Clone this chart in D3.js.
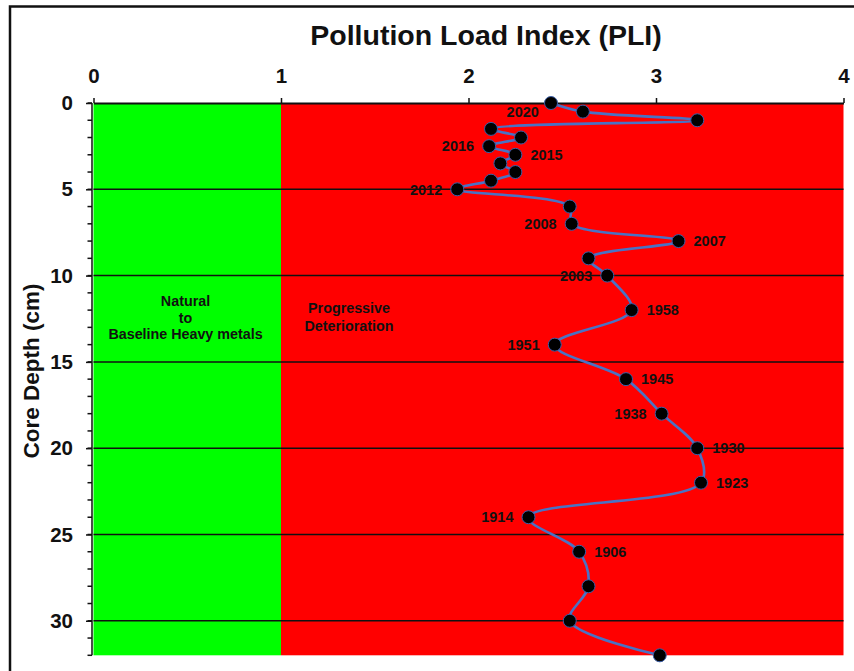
<!DOCTYPE html>
<html>
<head>
<meta charset="utf-8">
<script src="https://cdn.jsdelivr.net/npm/d3@7"></script>
<style>
  html, body { margin: 0; padding: 0; background: #fff; }
  svg { display: block; }
</style>
</head>
<body>
<svg id="chart" width="854" height="671"></svg>
<script>
// Sediment core: depth (cm) and Pollution Load Index at each slice
const depths = [0, 0.5, 1, 1.5, 2, 2.5, 3, 3.5, 4, 4.5, 5, 6, 7, 8, 9, 10, 12, 14, 16, 18, 20, 22, 24, 26, 28, 30, 32];
const pli    = [2.44, 2.61, 3.22, 2.12, 2.28, 2.11, 2.25, 2.17, 2.25, 2.12, 1.94, 2.54, 2.55, 3.12, 2.64, 2.74, 2.87, 2.46, 2.84, 3.03, 3.22, 3.24, 2.32, 2.59, 2.64, 2.54, 3.02];
// Dated horizons (year) for some slices
const years  = [null, "2020", null, null, null, "2016", "2015", null, null, null, "2012", null, "2008", "2007", null, "2003", "1958", "1951", "1945", "1938", "1930", "1923", "1914", "1906", null, null, null];

// Axis ticks
const xTicks = [0, 1, 2, 3, 4];
const yTicks = [0, 5, 10, 15, 20, 25, 30];
const yMinorTicks = d3.range(0, 33, 1);

// PLI classes
const zoneBreaks = [0, 1, 4];
const zoneNames = [["Natural", "to", "Baseline Heavy metals"], ["Progressive", "Deterioration"]];

const svg = d3.select("#chart");
const W = 854, H = 671;
const FONT = "'Liberation Sans', Arial, sans-serif";

const x = d3.scaleLinear().domain([0, 4]).range([93.5, 843.5]);
const y = d3.scaleLinear().domain([0, 32]).range([103, 655.3]);

const zoneColors = ["#00ff00", "#ff0000"];

// class bands
svg.append("g").selectAll("rect")
  .data(d3.pairs(zoneBreaks))
  .join("rect")
  .attr("x", d => x(d[0]))
  .attr("y", y(0))
  .attr("width", d => x(d[1]) - x(d[0]))
  .attr("height", y(32) - y(0))
  .attr("fill", (d, i) => zoneColors[i]);

// horizontal gridlines
svg.append("g").selectAll("line")
  .data(yTicks.filter(v => v > 0))
  .join("line")
  .attr("x1", x(0)).attr("x2", x(4))
  .attr("y1", d => y(d)).attr("y2", d => y(d))
  .attr("stroke", "#111").attr("stroke-width", 1.5);

// class names
const zoneText = svg.append("g")
  .attr("font-family", FONT)
  .attr("font-weight", "bold")
  .attr("font-size", 14.3)
  .attr("fill", "#111")
  .attr("text-anchor", "middle");
zoneText.append("text")
  .attr("x", 185.5).attr("y", 306)
  .selectAll("tspan").data(zoneNames[0]).join("tspan")
  .attr("x", 185.5).attr("dy", (d, i) => i ? 16.5 : 0)
  .text(d => d);
zoneText.append("text")
  .attr("x", 349).attr("y", 313)
  .selectAll("tspan").data(zoneNames[1]).join("tspan")
  .attr("x", 349).attr("dy", (d, i) => i ? 17.5 : 0)
  .text(d => d);

// top axis
const xAxis = svg.append("g")
  .attr("transform", `translate(0,${y(0)})`)
  .call(d3.axisTop(x).tickValues(xTicks).tickFormat(d3.format("d")).tickSize(5).tickSizeOuter(0).tickPadding(15));
xAxis.select(".domain").attr("stroke", "#111").attr("stroke-width", 2.2);
xAxis.selectAll(".tick line").attr("stroke", "#111").attr("stroke-width", 1.5);
xAxis.selectAll("text")
  .attr("font-family", FONT)
  .attr("font-weight", "bold").attr("font-size", 20.5).attr("fill", "#111");

// left axis with minor ticks
const yAxisG = svg.append("g").attr("transform", `translate(${x(0) - 1.5},0)`);
yAxisG.append("line")
  .attr("x1", 0).attr("x2", 0).attr("y1", y(0)).attr("y2", y(32))
  .attr("stroke", "#111").attr("stroke-width", 1.5);
yAxisG.append("g").selectAll("line")
  .data(yMinorTicks)
  .join("line")
  .attr("x1", -4.5).attr("x2", 0)
  .attr("y1", d => y(d)).attr("y2", d => y(d))
  .attr("stroke", "#111").attr("stroke-width", 1.5);
const yAxis = yAxisG.append("g")
  .call(d3.axisLeft(y).tickValues(yTicks).tickSize(6).tickSizeOuter(0).tickPadding(13));
yAxis.select(".domain").remove();
yAxis.selectAll(".tick line").attr("stroke", "#111").attr("stroke-width", 1.5);
yAxis.selectAll("text")
  .attr("font-family", FONT)
  .attr("font-weight", "bold").attr("font-size", 20.5).attr("fill", "#111");

// titles
svg.append("text")
  .attr("x", 486).attr("y", 45)
  .attr("text-anchor", "middle")
  .attr("font-family", FONT)
  .attr("font-weight", "bold").attr("font-size", 28.5).attr("fill", "#111")
  .text("Pollution Load Index (PLI)");
svg.append("text")
  .attr("transform", `translate(38.5,371) rotate(-90)`)
  .attr("text-anchor", "middle")
  .attr("font-family", FONT)
  .attr("font-weight", "bold").attr("font-size", 22.5).attr("fill", "#111")
  .text("Core Depth (cm)");

// PLI profile
const pts = depths.map((d, i) => ({ depth: d, v: pli[i], year: years[i] }));
const line = d3.line()
  .x(d => x(d.v)).y(d => y(d.depth))
  .curve(d3.curveCatmullRom.alpha(0.5));
svg.append("path")
  .datum(pts)
  .attr("d", line)
  .attr("fill", "none")
  .attr("stroke", "#4a72c4")
  .attr("stroke-width", 2.6);

svg.append("g").selectAll("circle")
  .data(pts)
  .join("circle")
  .attr("cx", d => x(d.v)).attr("cy", d => y(d.depth))
  .attr("r", 6.5)
  .attr("fill", "#000")
  .attr("stroke", "#3b5fa8").attr("stroke-width", 1);

// year labels beside dated points
const labelSide = { "2020": -1, "2016": -1, "2015": 1, "2012": -1, "2008": -1, "2007": 1, "2003": -1,
  "1958": 1, "1951": -1, "1945": 1, "1938": -1, "1930": 1, "1923": 1, "1914": -1, "1906": 1 };
const labelNudge = { "2020": -29 };
svg.append("g").selectAll("text")
  .data(pts.filter(d => d.year))
  .join("text")
  .attr("x", d => x(d.v) + labelSide[d.year] * 15 + (labelNudge[d.year] || 0))
  .attr("y", d => y(d.depth))
  .attr("dy", "0.36em")
  .attr("text-anchor", d => labelSide[d.year] < 0 ? "end" : "start")
  .attr("font-family", "'Liberation Sans Narrow', 'Arial Narrow', 'Liberation Sans', sans-serif")
  .attr("font-weight", "bold").attr("font-size", 14.5).attr("fill", "#111")
  .text(d => d.year);

// outer frame
svg.append("path")
  .attr("d", `M10,${H} V6.5 H${W}`)
  .attr("fill", "none")
  .attr("stroke", "#111").attr("stroke-width", 2.5);
</script>
</body>
</html>
